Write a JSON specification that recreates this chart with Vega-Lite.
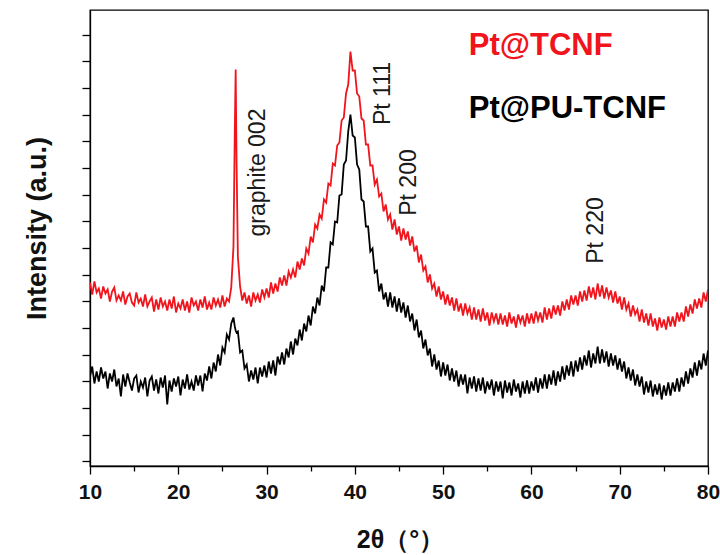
{
  "$schema": "https://vega.github.io/schema/vega-lite/v6.json",
  "width": 618,
  "height": 456,
  "autosize": {"type": "none"},
  "padding": {"left": 90, "top": 10, "right": 12, "bottom": 89},
  "background": "white",
  "config": {
    "view": {"stroke": "#000000", "strokeWidth": 1.3},
    "font": "Liberation Sans",
    "axis": {"domainColor": "#000000", "tickColor": "#000000", "domainWidth": 1.3, "tickWidth": 1.3, "grid": false}
  },
  "datasets": {
    "xrd": [
      {"t":10,"r":179,"k":85},{"t":10.25,"r":167,"k":95},{"t":10.5,"r":180,"k":78},{"t":10.75,"r":169,"k":90},
      {"t":11,"r":173,"k":80},{"t":11.25,"r":163,"k":94},{"t":11.5,"r":175,"k":83},{"t":11.75,"r":168,"k":90},
      {"t":12,"r":172,"k":73},{"t":12.25,"r":160,"k":88},{"t":12.5,"r":170,"k":80},{"t":12.75,"r":174,"k":92},
      {"t":13,"r":161,"k":75},{"t":13.25,"r":166,"k":83},{"t":13.5,"r":161,"k":65},{"t":13.75,"r":170,"k":87},
      {"t":14,"r":157,"k":75},{"t":14.25,"r":165,"k":88},{"t":14.5,"r":168,"k":79},{"t":14.75,"r":159,"k":71},
      {"t":15,"r":156,"k":83},{"t":15.25,"r":169,"k":86},{"t":15.5,"r":159,"k":69},{"t":15.75,"r":163,"k":80},
      {"t":16,"r":155,"k":74},{"t":16.25,"r":167,"k":84},{"t":16.5,"r":155,"k":65},{"t":16.75,"r":160,"k":81},
      {"t":17,"r":164,"k":85},{"t":17.25,"r":150,"k":71},{"t":17.5,"r":162,"k":82},{"t":17.75,"r":152,"k":68},
      {"t":18,"r":164,"k":84},{"t":18.25,"r":155,"k":74},{"t":18.5,"r":160,"k":86},{"t":18.75,"r":151,"k":57},
      {"t":19,"r":162,"k":81},{"t":19.25,"r":153,"k":70},{"t":19.5,"r":165,"k":83},{"t":19.75,"r":149,"k":75},
      {"t":20,"r":158,"k":85},{"t":20.25,"r":153,"k":66},{"t":20.5,"r":162,"k":82},{"t":20.75,"r":151,"k":73},
      {"t":21,"r":160,"k":87},{"t":21.25,"r":149,"k":72},{"t":21.5,"r":164,"k":80},{"t":21.75,"r":156,"k":71},
      {"t":22,"r":160,"k":86},{"t":22.25,"r":151,"k":76},{"t":22.5,"r":162,"k":86},{"t":22.75,"r":154,"k":70},
      {"t":23,"r":165,"k":88},{"t":23.25,"r":152,"k":81},{"t":23.5,"r":159,"k":95},{"t":23.75,"r":152,"k":83},
      {"t":24,"r":164,"k":99},{"t":24.25,"r":156,"k":90},{"t":24.5,"r":162,"k":107},{"t":24.75,"r":154,"k":96},
      {"t":25,"r":166,"k":114},{"t":25.25,"r":155,"k":109},{"t":25.5,"r":163,"k":127},{"t":25.75,"r":160,"k":122},
      {"t":26,"r":174,"k":138},{"t":26.25,"r":215,"k":144},{"t":26.4,"r":330,"k":135},{"t":26.5,"r":392,"k":131},
      {"t":26.6,"r":300,"k":129},{"t":26.75,"r":205,"k":130},{"t":27,"r":175,"k":109},{"t":27.25,"r":161,"k":111},
      {"t":27.5,"r":169,"k":93},{"t":27.75,"r":158,"k":97},{"t":28,"r":166,"k":80},{"t":28.25,"r":155,"k":91},
      {"t":28.5,"r":169,"k":82},{"t":28.75,"r":161,"k":94},{"t":29,"r":167,"k":78},{"t":29.25,"r":159,"k":94},
      {"t":29.5,"r":172,"k":85},{"t":29.75,"r":164,"k":96},{"t":30,"r":173,"k":84},{"t":30.25,"r":164,"k":100},
      {"t":30.5,"r":179,"k":88},{"t":30.75,"r":168,"k":101},{"t":31,"r":178,"k":86},{"t":31.25,"r":170,"k":105},
      {"t":31.5,"r":184,"k":97},{"t":31.75,"r":176,"k":109},{"t":32,"r":186,"k":97},{"t":32.25,"r":176,"k":113},
      {"t":32.5,"r":190,"k":104},{"t":32.75,"r":184,"k":120},{"t":33,"r":192,"k":107},{"t":33.25,"r":184,"k":123},
      {"t":33.5,"r":200,"k":116},{"t":33.75,"r":192,"k":132},{"t":34,"r":203,"k":121},{"t":34.25,"r":196,"k":138},
      {"t":34.5,"r":213,"k":130},{"t":34.75,"r":208,"k":146},{"t":35,"r":225,"k":136},{"t":35.25,"r":219,"k":155},
      {"t":35.5,"r":237,"k":148},{"t":35.75,"r":233,"k":164},{"t":36,"r":247,"k":156},{"t":36.25,"r":243,"k":176},
      {"t":36.5,"r":262,"k":170},{"t":36.75,"r":259,"k":194},{"t":37,"r":278,"k":194},{"t":37.25,"r":276,"k":219},
      {"t":37.5,"r":298,"k":217},{"t":37.75,"r":296,"k":240},{"t":38,"r":316,"k":239},{"t":38.25,"r":319,"k":266},
      {"t":38.5,"r":341,"k":267},{"t":38.75,"r":344,"k":297},{"t":39,"r":368,"k":301},{"t":39.25,"r":377,"k":330},
      {"t":39.5,"r":410,"k":347},{"t":39.75,"r":391,"k":326},{"t":40,"r":391,"k":324},{"t":40.25,"r":368,"k":297},
      {"t":40.5,"r":365,"k":292},{"t":40.75,"r":343,"k":262},{"t":41,"r":341,"k":260},{"t":41.25,"r":317,"k":235},
      {"t":41.5,"r":317,"k":235},{"t":41.75,"r":296,"k":210},{"t":42,"r":296,"k":213},{"t":42.25,"r":277,"k":189},
      {"t":42.5,"r":282,"k":191},{"t":42.75,"r":265,"k":170},{"t":43,"r":268,"k":178},{"t":43.25,"r":250,"k":162},
      {"t":43.5,"r":257,"k":169},{"t":43.75,"r":242,"k":155},{"t":44,"r":247,"k":169},{"t":44.25,"r":232,"k":154},
      {"t":44.5,"r":242,"k":165},{"t":44.75,"r":227,"k":150},{"t":45,"r":235,"k":163},{"t":45.25,"r":221,"k":149},
      {"t":45.5,"r":233,"k":159},{"t":45.75,"r":222,"k":144},{"t":46,"r":230,"k":156},{"t":46.25,"r":216,"k":140},
      {"t":46.5,"r":225,"k":148},{"t":46.75,"r":210,"k":131},{"t":47,"r":216,"k":142},{"t":47.25,"r":199,"k":124},
      {"t":47.5,"r":207,"k":131},{"t":47.75,"r":191,"k":113},{"t":48,"r":195,"k":122},{"t":48.25,"r":179,"k":106},
      {"t":48.5,"r":187,"k":113},{"t":48.75,"r":173,"k":95},{"t":49,"r":178,"k":107},{"t":49.25,"r":165,"k":92},
      {"t":49.5,"r":175,"k":101},{"t":49.75,"r":162,"k":85},{"t":50,"r":170,"k":99},{"t":50.25,"r":157,"k":86},
      {"t":50.5,"r":167,"k":97},{"t":50.75,"r":156,"k":81},{"t":51,"r":164,"k":93},{"t":51.25,"r":151,"k":80},
      {"t":51.5,"r":163,"k":91},{"t":51.75,"r":150,"k":75},{"t":52,"r":158,"k":87},{"t":52.25,"r":146,"k":77},
      {"t":52.5,"r":158,"k":87},{"t":52.75,"r":148,"k":68},{"t":53,"r":154,"k":84},{"t":53.25,"r":142,"k":73},
      {"t":53.5,"r":154,"k":85},{"t":53.75,"r":142,"k":70},{"t":54,"r":152,"k":83},{"t":54.25,"r":140,"k":71},
      {"t":54.5,"r":153,"k":84},{"t":54.75,"r":141,"k":68},{"t":55,"r":149,"k":80},{"t":55.25,"r":136,"k":72},
      {"t":55.5,"r":149,"k":82},{"t":55.75,"r":140,"k":66},{"t":56,"r":148,"k":80},{"t":56.25,"r":137,"k":70},
      {"t":56.5,"r":148,"k":80},{"t":56.75,"r":137,"k":63},{"t":57,"r":146,"k":81},{"t":57.25,"r":135,"k":69},
      {"t":57.5,"r":149,"k":79},{"t":57.75,"r":138,"k":66},{"t":58,"r":145,"k":82},{"t":58.25,"r":134,"k":70},
      {"t":58.5,"r":147,"k":78},{"t":58.75,"r":139,"k":64},{"t":59,"r":146,"k":80},{"t":59.25,"r":135,"k":68},
      {"t":59.5,"r":148,"k":81},{"t":59.75,"r":138,"k":68},{"t":60,"r":148,"k":80},{"t":60.25,"r":138,"k":71},
      {"t":60.5,"r":150,"k":84},{"t":60.75,"r":141,"k":69},{"t":61,"r":149,"k":83},{"t":61.25,"r":139,"k":73},
      {"t":61.5,"r":154,"k":87},{"t":61.75,"r":142,"k":73},{"t":62,"r":153,"k":87},{"t":62.25,"r":143,"k":77},
      {"t":62.5,"r":156,"k":91},{"t":62.75,"r":147,"k":76},{"t":63,"r":156,"k":90},{"t":63.25,"r":146,"k":80},
      {"t":63.5,"r":160,"k":95},{"t":63.75,"r":151,"k":82},{"t":64,"r":162,"k":96},{"t":64.25,"r":152,"k":86},
      {"t":64.5,"r":166,"k":100},{"t":64.75,"r":157,"k":85},{"t":65,"r":166,"k":101},{"t":65.25,"r":156,"k":90},
      {"t":65.5,"r":170,"k":104},{"t":65.75,"r":160,"k":92},{"t":66,"r":171,"k":106},{"t":66.25,"r":161,"k":96},
      {"t":66.5,"r":175,"k":111},{"t":66.75,"r":164,"k":94},{"t":67,"r":174,"k":108},{"t":67.25,"r":162,"k":98},
      {"t":67.5,"r":178,"k":115},{"t":67.75,"r":165,"k":98},{"t":68,"r":176,"k":112},{"t":68.25,"r":163,"k":99},
      {"t":68.5,"r":174,"k":110},{"t":68.75,"r":164,"k":95},{"t":69,"r":171,"k":108},{"t":69.25,"r":159,"k":96},
      {"t":69.5,"r":170,"k":106},{"t":69.75,"r":158,"k":92},{"t":70,"r":165,"k":103},{"t":70.25,"r":152,"k":90},
      {"t":70.5,"r":164,"k":100},{"t":70.75,"r":152,"k":83},{"t":71,"r":158,"k":94},{"t":71.25,"r":145,"k":81},
      {"t":71.5,"r":156,"k":92},{"t":71.75,"r":147,"k":76},{"t":72,"r":152,"k":87},{"t":72.25,"r":140,"k":75},
      {"t":72.5,"r":152,"k":85},{"t":72.75,"r":139,"k":67},{"t":73,"r":148,"k":80},{"t":73.25,"r":136,"k":69},
      {"t":73.5,"r":148,"k":81},{"t":73.75,"r":135,"k":65},{"t":74,"r":143,"k":77},{"t":74.25,"r":131,"k":67},
      {"t":74.5,"r":144,"k":78},{"t":74.75,"r":134,"k":62},{"t":75,"r":142,"k":76},{"t":75.25,"r":132,"k":66},
      {"t":75.5,"r":145,"k":79},{"t":75.75,"r":135,"k":66},{"t":76,"r":145,"k":79},{"t":76.25,"r":135,"k":70},
      {"t":76.5,"r":149,"k":83},{"t":76.75,"r":140,"k":70},{"t":77,"r":149,"k":84},{"t":77.25,"r":140,"k":75},
      {"t":77.5,"r":155,"k":90},{"t":77.75,"r":145,"k":78},{"t":78,"r":157,"k":93},{"t":78.25,"r":148,"k":84},
      {"t":78.5,"r":162,"k":99},{"t":78.75,"r":153,"k":86},{"t":79,"r":163,"k":101},{"t":79.25,"r":154,"k":92},
      {"t":79.5,"r":169,"k":108},{"t":79.75,"r":160,"k":96},{"t":80,"r":172,"k":111}
    ],
    "notes": [
      {"x": 29.0, "y": 289, "label": "graphite 002"},
      {"x": 43.2, "y": 368, "label": "Pt 111"},
      {"x": 46.1, "y": 279, "label": "Pt 200"},
      {"x": 67.3, "y": 231, "label": "Pt 220"}
    ],
    "legend": [
      {"x": 52.9, "y": 407, "label": "Pt@TCNF", "s": "r"},
      {"x": 52.9, "y": 344, "label": "Pt@PU-TCNF", "s": "k"}
    ]
  },
  "layer": [
    {
      "data": {"name": "xrd"},
      "transform": [{"fold": ["r", "k"], "as": ["s", "v"]}],
      "mark": {"type": "line", "strokeWidth": 1.8, "clip": true},
      "encoding": {
        "x": {
          "field": "t", "type": "quantitative",
          "scale": {"domain": [10, 80], "nice": false, "zero": false},
          "title": "2θ（°）",
          "axis": {
            "orient": "bottom", "values": [10, 15, 20, 25, 30, 35, 40, 45, 50, 55, 60, 65, 70, 75, 80],
            "tickCount": 40,
            "labelExpr": "datum.value % 10 === 0 ? datum.label : ''",
            "tickSize": {"condition": {"test": "datum.value % 10 === 0", "value": 8}, "value": 5},
            "labelFontSize": 21, "labelFontWeight": "bold", "labelColor": "#111111",
            "labelPadding": 7, "labelFlush": false,
            "titleFontSize": 25, "titleFontWeight": "bold", "titleColor": "#111111",
            "titlePadding": 25, "titleX": 310
          }
        },
        "y": {
          "field": "v", "type": "quantitative",
          "scale": {"domain": [-4.5, 451.5], "nice": false, "zero": false},
          "title": "Intensity (a.u.)",
          "axis": {
            "orient": "left",
            "values": [0.3, 26.95, 53.6, 80.25, 106.9, 133.55, 160.2, 186.85, 213.5, 240.15, 266.8, 293.45, 320.1, 346.75, 373.4, 400.05, 426.7],
            "tickCount": 40,
            "labels": false, "tickSize": 8,
            "titleFontSize": 27, "titleFontWeight": "bold", "titleColor": "#111111",
            "titlePadding": 30, "titleY": 218
          }
        },
        "color": {
          "field": "s", "type": "nominal",
          "scale": {"domain": ["r", "k"], "range": ["#f0141c", "#000000"]},
          "legend": null
        }
      }
    },
    {
      "data": {"name": "notes"},
      "mark": {"type": "text", "angle": 270, "fontSize": 23, "color": "#1a1a1a", "align": "center", "baseline": "middle"},
      "encoding": {
        "x": {"field": "x", "type": "quantitative", "scale": {"domain": [10, 80], "nice": false, "zero": false}, "title": "2θ（°）"},
        "y": {"field": "y", "type": "quantitative", "scale": {"domain": [-4.5, 451.5], "nice": false, "zero": false}, "title": "Intensity (a.u.)"},
        "text": {"field": "label"}
      }
    },
    {
      "data": {"name": "legend"},
      "mark": {"type": "text", "align": "left", "baseline": "alphabetic", "fontSize": 31, "fontWeight": "bold"},
      "encoding": {
        "x": {"field": "x", "type": "quantitative", "scale": {"domain": [10, 80], "nice": false, "zero": false}, "title": "2θ（°）"},
        "y": {"field": "y", "type": "quantitative", "scale": {"domain": [-4.5, 451.5], "nice": false, "zero": false}, "title": "Intensity (a.u.)"},
        "text": {"field": "label"},
        "color": {"field": "s", "type": "nominal", "scale": {"domain": ["r", "k"], "range": ["#f0141c", "#000000"]}, "legend": null}
      }
    }
  ]
}
